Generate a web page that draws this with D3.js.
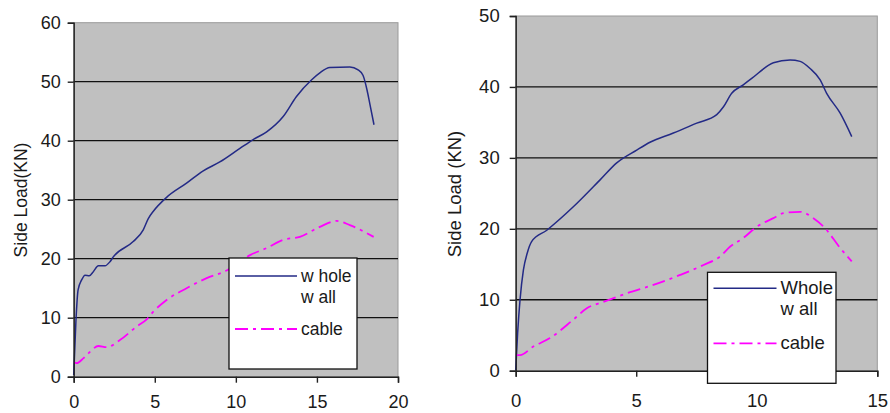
<!DOCTYPE html>
<html>
<head>
<meta charset="utf-8">
<script src="https://cdn.jsdelivr.net/npm/d3@7"></script>
<style>
  body { margin: 0; background: #fff; }
  svg { display: block; font-family: "Liberation Sans", Arial, sans-serif; }
</style>
</head>
<body>
<svg id="chart" width="890" height="413"></svg>
<script>
// left panel: displacement vs side load
const leftXTicks = [0, 5, 10, 15, 20];
const leftYTicks = [0, 10, 20, 30, 40, 50, 60];
const leftWhole = [
  [0, 0.3], [0.14, 9.6], [0.27, 14.7], [0.49, 16.4], [0.7, 17.2], [0.96, 17.1],
  [1.21, 17.8], [1.52, 18.8], [1.93, 18.8], [2.24, 19.5], [2.44, 20.3], [3.67, 22.9],
  [4.29, 24.9], [4.6, 26.8], [4.9, 28.0], [5.73, 30.4], [6.96, 32.8], [7.99, 34.9],
  [9.01, 36.4], [10.25, 38.7], [11.07, 40.2], [11.9, 41.5], [12.92, 44.1], [13.74, 47.5],
  [14.66, 50.3], [15.18, 51.5], [15.79, 52.4], [17.03, 52.5], [17.54, 52.0], [17.84, 51.1],
  [18.09, 48.6], [18.26, 46.3], [18.52, 42.7]
];
const leftCable = [
  [0.02, 2.5], [0.18, 2.3], [0.59, 3.1], [1.0, 4.2], [1.52, 5.2], [2.03, 5.0],
  [2.85, 6.2], [3.88, 8.5], [4.5, 9.7], [4.9, 11.0], [5.73, 13.0], [6.96, 15.0],
  [8.2, 16.7], [9.43, 18.0], [10.87, 20.6], [11.89, 21.8], [12.92, 23.2], [13.95, 23.7],
  [15.18, 25.4], [16.2, 26.4], [17.03, 25.7], [18.5, 23.7]
];
const leftLegend = ["w hole", "w all", "cable"];

// right panel
const rightXTicks = [0, 5, 10, 15];
const rightYTicks = [0, 10, 20, 30, 40, 50];
const rightWhole = [
  [0, 0.1], [0.08, 5.3], [0.18, 10], [0.32, 14.2], [0.48, 16.6], [0.66, 18.2],
  [1.29, 19.8], [2.39, 23.1], [3.5, 26.9], [4.19, 29.3], [5.02, 31.1], [5.57, 32.2],
  [6.54, 33.5], [7.51, 34.9], [8.34, 36.1], [8.62, 37.2], [8.96, 39.1], [9.44, 40.3],
  [9.79, 41.2], [10.69, 43.4], [11.38, 43.8], [11.8, 43.6], [12.21, 42.6], [12.63, 41.0],
  [12.9, 39.1], [13.46, 36.3], [13.94, 33.0]
];
const rightCable = [
  [0.01, 2.2], [0.18, 2.2], [0.73, 3.4], [1.42, 4.6], [2.39, 7.2], [2.95, 8.8],
  [3.64, 9.7], [4.6, 10.9], [5.71, 12.1], [6.82, 13.5], [7.79, 14.9], [8.48, 16.1],
  [8.9, 17.5], [9.44, 18.7], [10.0, 20.3], [10.69, 21.5], [11.11, 22.2], [11.8, 22.4],
  [12.35, 21.5], [12.83, 20.1], [13.46, 17.3], [13.94, 15.4]
];
const rightLegend = ["Whole", "w all", "cable"];

const wholeColor = "#232a86";
const cableColor = "#ff00ff";

const svg = d3.select("#chart");

function drawPanel(cfg) {
  const g = svg.append("g");
  const x = d3.scaleLinear().domain(cfg.xDomain).range(cfg.xRange);
  const y = d3.scaleLinear().domain(cfg.yDomain).range(cfg.yRange);

  // plot background
  g.append("rect")
    .attr("x", cfg.xRange[0]).attr("y", cfg.yRange[1])
    .attr("width", cfg.xRange[1] - cfg.xRange[0])
    .attr("height", cfg.yRange[0] - cfg.yRange[1])
    .attr("fill", "#c0c0c0")
    .attr("stroke", "#9a9a9a")
    .attr("stroke-width", 1);

  // gridlines
  g.selectAll(".grid")
    .data(cfg.yTicks.slice(1, -1))
    .enter().append("line")
    .attr("x1", cfg.xRange[0]).attr("x2", cfg.xRange[1])
    .attr("y1", d => y(d)).attr("y2", d => y(d))
    .attr("stroke", "#111")
    .attr("stroke-width", 1.3);

  const line = d3.line()
    .x(d => x(d[0]))
    .y(d => y(d[1]))
    .curve(d3.curveMonotoneX);

  g.append("path")
    .datum(cfg.whole)
    .attr("d", line)
    .attr("fill", "none")
    .attr("stroke", wholeColor)
    .attr("stroke-width", 1.5);

  g.append("path")
    .datum(cfg.cable)
    .attr("d", line)
    .attr("fill", "none")
    .attr("stroke", cableColor)
    .attr("stroke-width", 1.8)
    .attr("stroke-dasharray", "13,5,3,5");

  // axes
  const yAxis = d3.axisLeft(y).tickValues(cfg.yTicks).tickSize(6).tickPadding(cfg.yPad);
  const xAxis = d3.axisBottom(x).tickValues(cfg.xTicks).tickSize(6).tickPadding(cfg.xPad);

  const ya = g.append("g")
    .attr("transform", `translate(${cfg.xRange[0]},0)`)
    .call(yAxis);
  const xa = g.append("g")
    .attr("transform", `translate(0,${cfg.yRange[0]})`)
    .call(xAxis);
  [ya, xa].forEach(a => {
    a.select(".domain").attr("stroke", "#222").attr("stroke-width", 1.4);
    a.selectAll(".tick line").attr("stroke", "#222").attr("stroke-width", 1.4);
    a.selectAll("text")
      .attr("fill", "#1a1a1a")
      .style("font-family", '"Liberation Sans", Arial, sans-serif')
      .style("font-size", cfg.tickSize + "px");
  });

  // y axis title
  g.append("text")
    .attr("transform", `translate(${cfg.titleX},${cfg.titleY}) rotate(-90)`)
    .attr("text-anchor", "middle")
    .attr("fill", "#1a1a1a")
    .style("font-size", cfg.fontSize + "px")
    .text(cfg.title);

  // legend
  const L = cfg.legend;
  const lg = g.append("g");
  lg.append("rect")
    .attr("x", L.x).attr("y", L.y).attr("width", L.w).attr("height", L.h)
    .attr("fill", "#fff").attr("stroke", "#111").attr("stroke-width", 1.3);
  lg.append("line")
    .attr("x1", L.x + 6).attr("x2", L.x + L.lineLen + 6)
    .attr("y1", L.y + L.row1).attr("y2", L.y + L.row1)
    .attr("stroke", wholeColor).attr("stroke-width", 1.5);
  lg.append("line")
    .attr("x1", L.x + 6).attr("x2", L.x + L.lineLen + 6)
    .attr("y1", L.y + L.row3).attr("y2", L.y + L.row3)
    .attr("stroke", cableColor).attr("stroke-width", 1.8)
    .attr("stroke-dasharray", "13,5,3,5");
  const textX = L.x + L.lineLen + 10;
  const baselines = [L.row1 + 6, L.row1 + 27, L.row3 + 6];
  lg.selectAll(".lt")
    .data(cfg.legendText)
    .enter().append("text")
    .attr("x", textX)
    .attr("y", (d, i) => L.y + baselines[i])
    .attr("fill", "#1a1a1a")
    .style("font-size", cfg.fontSize + "px")
    .text(d => d);
}

drawPanel({
  xDomain: [0, 20], xRange: [73.7, 398],
  yDomain: [0, 60], yRange: [376.7, 22.7],
  xTicks: leftXTicks, yTicks: leftYTicks,
  whole: leftWhole, cable: leftCable,
  yPad: 7, xPad: 13, fontSize: 17.5, tickSize: 18,
  title: "Side Load(KN)", titleX: 27, titleY: 200,
  legend: { x: 229, y: 258, w: 128, h: 111, lineLen: 62, row1: 18, row3: 71 },
  legendText: leftLegend
});

drawPanel({
  xDomain: [0, 15], xRange: [515.7, 877.3],
  yDomain: [0, 50], yRange: [370.7, 16],
  xTicks: rightXTicks, yTicks: rightYTicks,
  whole: rightWhole, cable: rightCable,
  yPad: 10, xPad: 17, fontSize: 18.5, tickSize: 18.5,
  title: "Side Load (KN)", titleX: 461, titleY: 194,
  legend: { x: 707.5, y: 272.3, w: 128.5, h: 111, lineLen: 63, row1: 16, row3: 71 },
  legendText: rightLegend
});
</script>
</body>
</html>
